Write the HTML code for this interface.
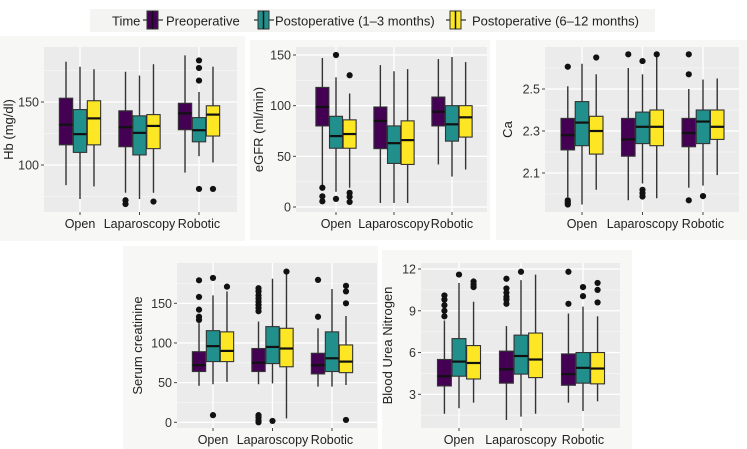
<!DOCTYPE html>
<html><head><meta charset="utf-8"><style>
html,body{margin:0;padding:0;background:#fff;}
svg{display:block;font-family:"Liberation Sans",sans-serif;}
</style></head><body>
<svg id="chart" width="747" height="449" viewBox="0 0 747 449">
<rect x="0" y="0" width="747" height="449" fill="#fff"/>
<g>
<rect x="90" y="9" width="565" height="23" fill="#f4f4f2"/>
<text x="112" y="25.5" font-size="13" fill="#222">Time</text>
<g>
<line x1="143" y1="20" x2="163" y2="20" stroke="#333" stroke-width="1.2"/>
<rect x="147" y="11" width="11" height="18" fill="#440154" stroke="#333"/>
<line x1="152.5" y1="11" x2="152.5" y2="29" stroke="#111" stroke-width="1.5"/>
<text x="166" y="25.5" font-size="13" fill="#222">Preoperative</text></g>
<g>
<line x1="254" y1="20" x2="274" y2="20" stroke="#333" stroke-width="1.2"/>
<rect x="258" y="11" width="11" height="18" fill="#21908c" stroke="#333"/>
<line x1="263.5" y1="11" x2="263.5" y2="29" stroke="#111" stroke-width="1.5"/>
<text x="275" y="25.5" font-size="13" fill="#222">Postoperative (1–3 months)</text></g>
<g>
<line x1="446" y1="20" x2="466" y2="20" stroke="#333" stroke-width="1.2"/>
<rect x="450" y="11" width="11" height="18" fill="#fde725" stroke="#333"/>
<line x1="455.5" y1="11" x2="455.5" y2="29" stroke="#111" stroke-width="1.5"/>
<text x="472" y="25.5" font-size="13" fill="#222">Postoperative (6–12 months)</text></g>
</g>
</svg>
<script>
const categories = ["Open","Laparoscopy","Robotic"];
const seriesNames = ["Preoperative","Postoperative (1–3 months)","Postoperative (6–12 months)"];
// each: per category [low, q1, median, q3, high]
const hbPre   = [[84,116,132,153,182],[78,114.5,130,143,174],[94,128,141,149,187]];
const hbPost1 = [[73,110,124.5,144,178],[73,108,125.5,139,171],[107,118.4,127.6,137.6,158]];
const hbPost2 = [[83,116,137,151,176],[78,113,131,140,180],[102,123,140,147,178]];
const hbOut   = [[[],[],[]],[[72,69],[],[71]],[[],[183,177,167,81],[81]]];
const hbTicks = [100,150];
const egPre   = [[20,80,98.7,118,147],[4,57.6,85,98.7,140],[42,80,94,108.5,146]];
const egPost1 = [[15,58,70,89.5,128],[4,43,63,80,134],[30,65,81.6,100,148]];
const egPost2 = [[19,58,72,86,112],[4,42,66,85,136],[37,69,88.5,100,143]];
const egOut   = [[[19,10.5,5.6],[150,8],[130,14,10,5]],[[],[],[]],[[],[],[]]];
const egTicks = [0,50,100,150];
const caPre   = [[1.985,2.21,2.28,2.36,2.513],[1.97,2.18,2.26,2.36,2.60],[2.03,2.225,2.29,2.36,2.50]];
const caPost1 = [[1.95,2.23,2.34,2.44,2.62],[2.05,2.24,2.32,2.39,2.57],[2.04,2.24,2.345,2.40,2.545]];
const caPost2 = [[2.02,2.19,2.30,2.37,2.57],[1.98,2.23,2.32,2.40,2.66],[2.09,2.26,2.32,2.40,2.55]];
const caOut   = [[[2.606,1.97,1.96,1.95],[],[2.65]],[[2.665],[2.633,2.02,2.004,1.988],[2.665]],[[2.665,2.57,1.97],[1.99],[]]];
const caTicks = [2.1,2.3,2.5];
const scPre   = [[46,64,72,89,125],[48,64,75,93,127],[45,61,72,87,118.5]];
const scPost1 = [[48,76.5,96,115.5,160],[49,74,95,120.6,181],[45,64,80.7,114,168]];
const scPost2 = [[51,76.5,90,114,165],[5,70,93,118.5,188],[47,62.6,76.5,97.5,134]];
const scOut   = [[[179,158,142,133,129],[182,9],[171]],[[169,165,160,156,152,148,144,140,9,6,2.5,0],[1.7],[190]],[[179.5,133],[],[172,165,150,3]]];
const scTicks = [0,50,100,150];
const bunPre   = [[1.6,3.6,4.3,5.5,8.3],[1.15,3.8,4.8,6.1,7.9],[2.4,3.65,4.45,5.9,8.8]];
const bunPost1 = [[2.0,4.3,5.35,7.0,11],[1.4,4.45,5.75,7.25,11.2],[1.8,3.8,4.9,6.0,9.3]];
const bunPost2 = [[2.4,4.1,5.25,6.5,9.65],[1.6,4.2,5.5,7.4,11.6],[2.5,3.75,4.85,6.0,8.6]];
const bunOut   = [[[10.1,9.8,9.4,9.0,8.6],[11.6],[11.1,10.9,10.7]],[[11.3,10.6,10.3,10.0,9.8,9.5],[11.8],[]],[[11.8,9.5],[10.7,10.05],[11.0,10.5,9.6]]];
const bunTicks = [3,6,9,12];

const colors = ["#440154","#21908c","#fde725"];
const NS="http://www.w3.org/2000/svg";
const svg=document.getElementById('chart');
function mk(t,a,p){const e=document.createElementNS(NS,t);for(const k in a)e.setAttribute(k,a[k]);(p||svg).appendChild(e);return e;}

function panel(cfg){
  const g=mk('g',{});
  
  
  mk('rect',{x:cfg.bx,y:cfg.by,width:cfg.bw,height:cfg.bh,fill:'#f7f7f5'},g);
  mk('rect',{x:cfg.x0,y:cfg.y0,width:cfg.x1-cfg.x0,height:cfg.y1-cfg.y0,fill:'#ebebeb'},g);
  const y=v=>cfg.yA+(v-cfg.vA)*(cfg.yB-cfg.yA)/(cfg.vB-cfg.vA);
  const step=cfg.ticks[1]-cfg.ticks[0];
  for(let v=cfg.ticks[0]-step*2.5; v<=cfg.ticks[cfg.ticks.length-1]+step*2; v+=step){
    const yy=y(v); if(yy>cfg.y0&&yy<cfg.y1) mk('line',{x1:cfg.x0,x2:cfg.x1,y1:yy,y2:yy,stroke:'#f6f6f6','stroke-width':0.8},g);
  }
  const cx=i=>cfg.c0+i*cfg.cs;
  cfg.ticks.forEach(v=>{
    const yy=y(v);
    mk('line',{x1:cfg.x0,x2:cfg.x1,y1:yy,y2:yy,stroke:'#fff','stroke-width':1.3},g);
    mk('line',{x1:cfg.x0-3,x2:cfg.x0,y1:yy,y2:yy,stroke:'#444','stroke-width':1},g);
    const t=mk('text',{x:cfg.x0-5,y:yy+4.5,'font-size':12.5,'text-anchor':'end',fill:'#333'},g);
    t.textContent=String(v);
    
    
  });
  categories.forEach((c,i)=>{
    mk('line',{x1:cx(i),x2:cx(i),y1:cfg.y0,y2:cfg.y1,stroke:'#fff','stroke-width':1.3},g);
    mk('line',{x1:cx(i),x2:cx(i),y1:cfg.y1,y2:cfg.y1+3,stroke:'#444','stroke-width':1},g);
    const t=mk('text',{x:cx(i),y:cfg.y1+16,'font-size':12.5,'text-anchor':'middle',fill:'#222'},g);
    t.textContent=c;
    
    
  });
  const yt=mk('text',{x:0,y:0,'font-size':13,'text-anchor':'middle',fill:'#222',transform:`translate(${cfg.tx},${(cfg.y0+cfg.y1)/2}) rotate(-90)`},g);
  yt.textContent=cfg.title;
  
  
  const off=cfg.cs*0.235, hw=cfg.cs*0.112;
  cfg.series.forEach((ser,s)=>{
    ser.forEach((st,i)=>{
      const x=cx(i)+(s-1)*off;
      const bg=mk('g',{},g);
      
      
      mk('line',{x1:x,x2:x,y1:y(st[0]),y2:y(st[4]),stroke:'#333','stroke-width':1.4},bg);
      mk('rect',{x:x-hw,y:y(st[3]),width:hw*2,height:y(st[1])-y(st[3]),fill:colors[s],stroke:'#333','stroke-width':1.1},bg);
      mk('line',{x1:x-hw,x2:x+hw,y1:y(st[2]),y2:y(st[2]),stroke:'#111','stroke-width':2.2},bg);
      cfg.out[i][s].forEach(v=>{
        const d=mk('circle',{cx:x,cy:y(v),r:3.1,fill:'#111'},bg);
        
        
      });
    });
  });
}
panel({name:'hb-panel',title:'Hb (mg/dl)',bx:0,by:36,bw:245,bh:205,x0:44,x1:237,y0:47,y1:212,yA:165,vA:100,yB:102,vB:150,ticks:hbTicks,c0:80,cs:59.5,tx:13,series:[hbPre,hbPost1,hbPost2],out:hbOut});
panel({name:'egfr-panel',title:'eGFR (ml/min)',bx:250,by:40,bw:240,bh:200,x0:296,x1:487,y0:47,y1:212,yA:207,vA:0,yB:55,vB:150,ticks:egTicks,c0:336,cs:58,tx:263,series:[egPre,egPost1,egPost2],out:egOut});
panel({name:'ca-panel',title:'Ca',bx:496,by:40,bw:251,bh:200,x0:545,x1:739,y0:47,y1:212,yA:173,vA:2.1,yB:89,vB:2.5,ticks:caTicks,c0:582,cs:60.5,tx:512,series:[caPre,caPost1,caPost2],out:caOut});
panel({name:'creatinine-panel',title:'Serum creatinine',bx:123,by:246,bw:255,bh:203,x0:177,x1:377,y0:263,y1:428,yA:422.3,vA:0,yB:303.3,vB:150,ticks:scTicks,c0:213,cs:59.5,tx:142,series:[scPre,scPost1,scPost2],out:scOut});
panel({name:'bun-panel',title:'Blood Urea Nitrogen',bx:382,by:250,bw:250,bh:199,x0:421,x1:620,y0:263,y1:428,yA:394.3,vA:3,yB:269,vB:12,ticks:bunTicks,c0:459,cs:62,tx:392,series:[bunPre,bunPost1,bunPost2],out:bunOut});
</script>
</body></html>
